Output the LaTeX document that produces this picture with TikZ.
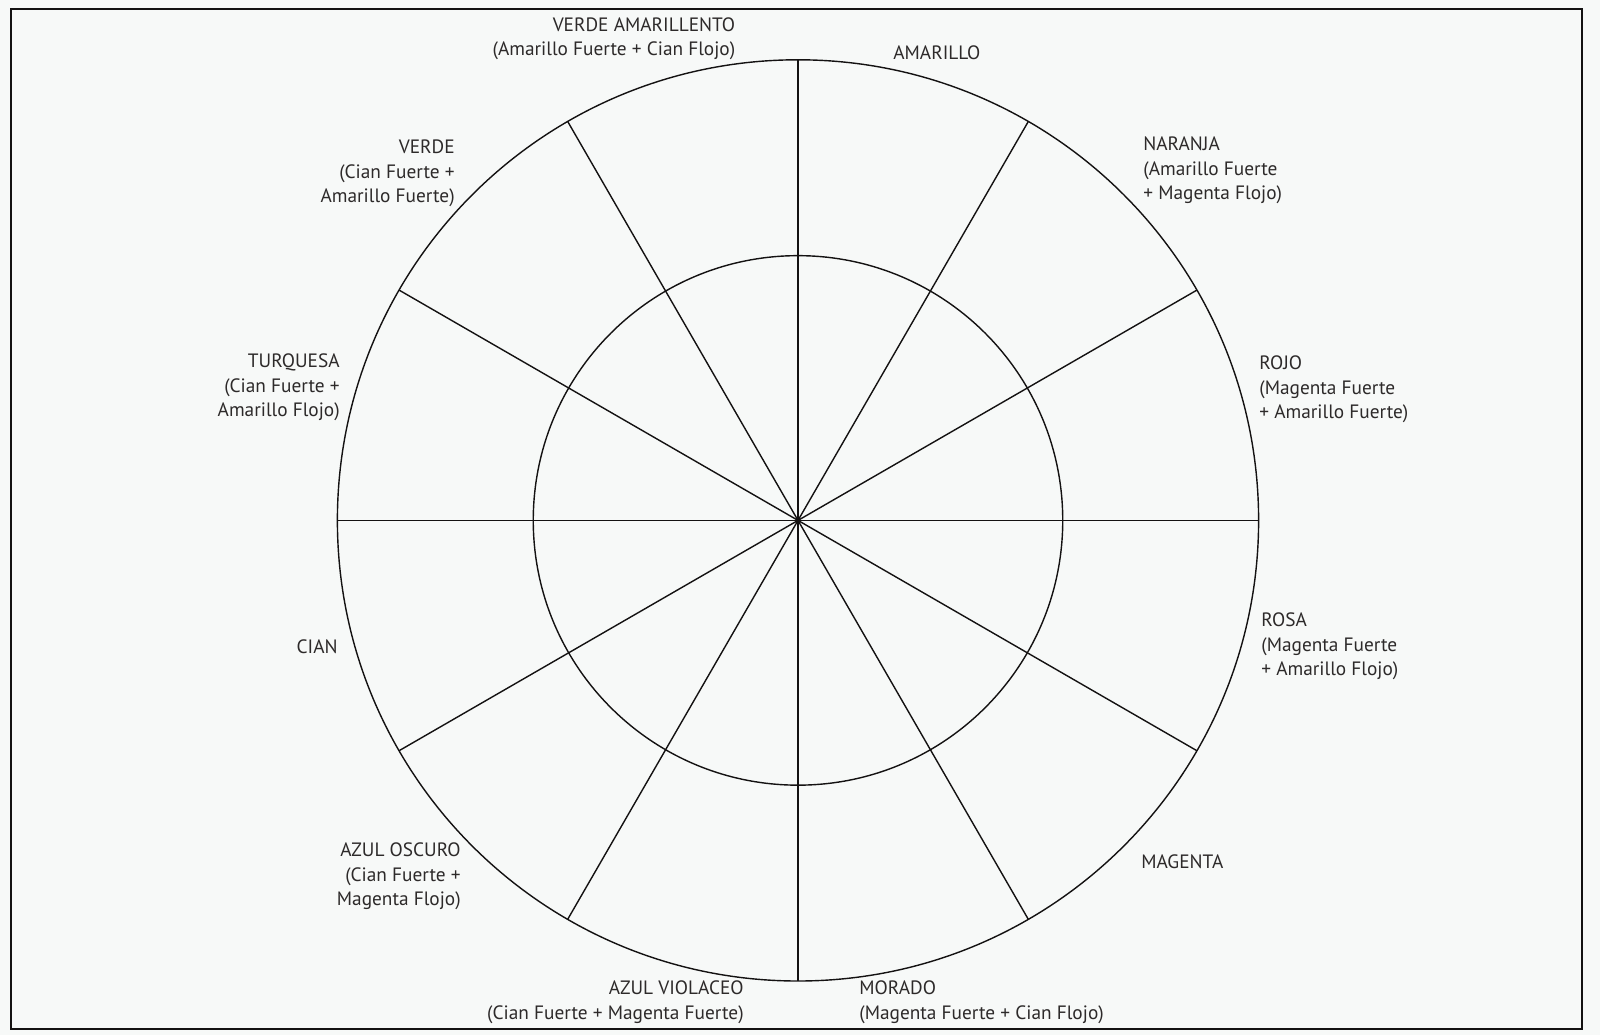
\documentclass[tikz,border=0pt]{standalone}
\usepackage{fontspec}
\setmainfont{PT Sans}
\usepackage{tikz}
\usetikzlibrary{calc}
\definecolor{fondo}{RGB}{247, 249, 248}
\definecolor{texto}{RGB}{45, 42, 42}
\definecolor{linea}{RGB}{20, 18, 18}

\begin{document}
\begin{tikzpicture}[x=0.02cm, y=-0.02cm,
    lbl/.style={font=\fontsize{11}{13.9}\selectfont, text=texto, inner sep=0pt},
    lblL/.style={lbl, anchor=base west, align=left},
    lblR/.style={lbl, anchor=base east, align=right}]
    \fill[fondo] (0,0) rectangle (1600,1035);
    \useasboundingbox (0,0) rectangle (1600,1035);
    \draw[linea, line width=1.4pt] (11,9) rectangle (1582,1029);
    % rueda
    \coordinate (centro) at (798,520.4);
    \draw[linea, line width=0.8pt] (centro) circle [radius=9.214cm];
    \draw[linea, line width=0.8pt] (centro) circle [radius=5.296cm];
    \foreach \a in {0,30,...,330}
      \draw[linea, line width=0.8pt] (centro) -- ($(centro)+(\a:460.7)$);
    % etiquetas (y = linea base de la ultima linea)
    \node (verdeam) at (735.5,55.5) [lblR] {VERDE AMARILLENTO\\(Amarillo Fuerte + Cian Flojo)};
    \node (amarillo) at (893,59.5) [lblL] {AMARILLO};
    \node (naranja) at (1143,199.5) [lblL] {NARANJA\\(Amarillo Fuerte\\+ Magenta Flojo)};
    \node (rojo) at (1259,418.5) [lblL] {ROJO\\(Magenta Fuerte\\+ Amarillo Fuerte)};
    \node (rosa) at (1261,675.5) [lblL] {ROSA\\(Magenta Fuerte\\+ Amarillo Flojo)};
    \node (magenta) at (1141,868.5) [lblL] {MAGENTA};
    \node (morado) at (859,1019) [lblL] {MORADO\\(Magenta Fuerte + Cian Flojo)};
    \node (azulvio) at (744,1019) [lblR] {AZUL VIOLACEO\\(Cian Fuerte + Magenta Fuerte)};
    \node (azulosc) at (461,905.5) [lblR] {AZUL OSCURO\\(Cian Fuerte +\\Magenta Flojo)};
    \node (cian) at (338,653.5) [lblR] {CIAN};
    \node (turquesa) at (340,416.5) [lblR] {TURQUESA\\(Cian Fuerte +\\Amarillo Flojo)};
    \node (verde) at (455,202.5) [lblR] {VERDE\\(Cian Fuerte +\\Amarillo Fuerte)};
\end{tikzpicture}
\end{document}
